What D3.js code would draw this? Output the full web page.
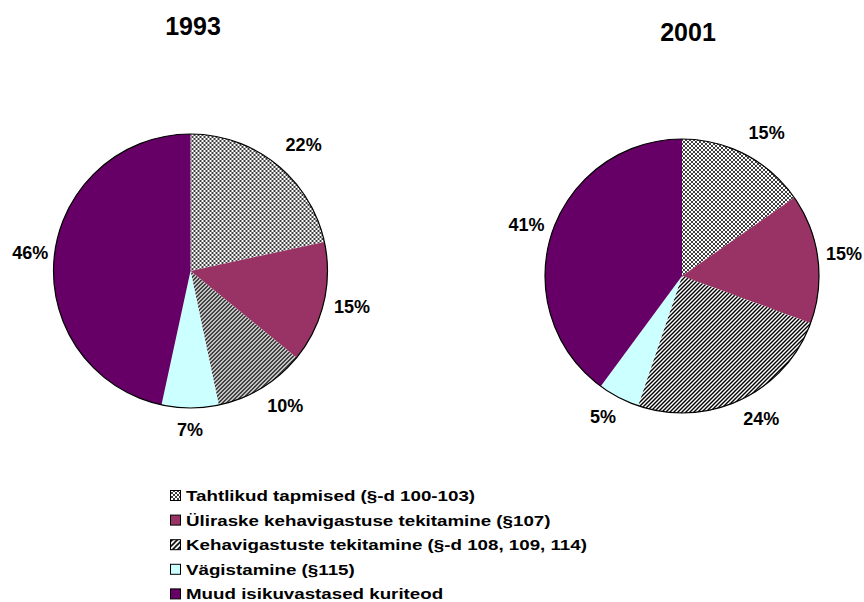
<!DOCTYPE html>
<html>
<head>
<meta charset="utf-8">
<script src="https://cdn.jsdelivr.net/npm/d3@7"></script>
<style>
  body { margin: 0; background: #fff; }
  text { font-family: "Liberation Sans", Arial, sans-serif; font-weight: bold; fill: #000; }
</style>
</head>
<body>
<div id="chart"></div>
<script>
// data
let categories = [
    "Tahtlikud tapmised (§-d 100-103)",
    "Üliraske kehavigastuse tekitamine (§107)",
    "Kehavigastuste tekitamine (§-d 108, 109, 114)",
    "Vägistamine (§115)",
    "Muud isikuvastased kuriteod"
];
let years = ["1993", "2001"];
let values1993 = [21.6, 14.3, 10.8, 6.7, 46.6];
let values2001 = [15.3, 15.3, 24.6, 4.9, 39.9];
let labels1993 = ["22%", "15%", "10%", "7%", "46%"];
let labels2001 = ["15%", "15%", "24%", "5%", "41%"];

function makeChart() {
    let svgWidth = 864;
    let svgHeight = 602;
    let radius = 137;
    let labelRadius = 160;

    let svg = d3.select("#chart")
        .append("svg")
        .attr("width", svgWidth)
        .attr("height", svgHeight);

    //patterns
    let defs = svg.append("defs");

    let trellis = defs.append("pattern")
        .attr("id", "trellis")
        .attr("patternUnits", "userSpaceOnUse")
        .attr("width", 4)
        .attr("height", 4);
    trellis.append("rect").attr("width", 4).attr("height", 4).attr("fill", "#fff");
    trellis.append("path")
        .attr("d", "M0,0 L4,4 M4,0 L0,4")
        .attr("stroke", "#000")
        .attr("stroke-width", 0.75);

    let diag = defs.append("pattern")
        .attr("id", "diag")
        .attr("patternUnits", "userSpaceOnUse")
        .attr("width", 4)
        .attr("height", 4);
    diag.append("rect").attr("width", 4).attr("height", 4).attr("fill", "#fff");
    diag.append("path")
        .attr("d", "M-1,1 L1,-1 M0,4 L4,0 M3,5 L5,3")
        .attr("stroke", "#000")
        .attr("stroke-width", 1.4);

    let diagBig = defs.append("pattern")
        .attr("id", "diagBig")
        .attr("patternUnits", "userSpaceOnUse")
        .attr("width", 5)
        .attr("height", 5);
    diagBig.append("rect").attr("width", 5).attr("height", 5).attr("fill", "#fff");
    diagBig.append("path")
        .attr("d", "M-1,1 L1,-1 M0,5 L5,0 M4,6 L6,4")
        .attr("stroke", "#000")
        .attr("stroke-width", 1.6);

    let fills = ["url(#trellis)", "#993366", "url(#diag)", "#ccffff", "#660066"];
    let legendFills = ["url(#trellis)", "#993366", "url(#diagBig)", "#ccffff", "#660066"];

    let pie = d3.pie().sort(null).value(d => d);
    let arc = d3.arc().innerRadius(0).outerRadius(radius);
    let labelArc = d3.arc().innerRadius(labelRadius).outerRadius(labelRadius);

    // excel nudges labels sideways on the diagonals
    function push(d) {
        let a = (d.startAngle + d.endAngle) / 2;
        let s = Math.abs(Math.sin(2 * a));
        return Math.sin(a) > 0 ? 13 * s : -6 * s;
    }

    let pies = [
        {year: years[0], values: values1993, labels: labels1993, cx: 190.5, cy: 271, tx: 193, ty: 35},
        {year: years[1], values: values2001, labels: labels2001, cx: 682, cy: 276, tx: 688, ty: 41}
    ];

    pies.forEach(function(p) {
        let g = svg.append("g")
            .attr("transform", `translate(${p.cx}, ${p.cy})`);

        let slices = pie(p.values);

        g.selectAll("path.slice")
            .data(slices)
            .enter()
            .append("path")
            .attr("class", "slice")
            .attr("d", arc)
            .attr("fill", (d, i) => fills[i]);

        //outline
        g.append("circle")
            .attr("r", radius)
            .attr("fill", "none")
            .attr("stroke", "#000")
            .attr("stroke-width", 1.2);

        g.selectAll("text.lbl")
            .data(slices)
            .enter()
            .append("text")
            .attr("class", "lbl")
            .attr("x", d => labelArc.centroid(d)[0] + push(d))
            .attr("y", d => labelArc.centroid(d)[1] - 1.5)
            .attr("dy", "0.35em")
            .attr("text-anchor", "middle")
            .attr("font-size", "18px")
            .text((d, i) => p.labels[i]);

        //title
        svg.append("text")
            .attr("x", p.tx)
            .attr("y", p.ty)
            .attr("text-anchor", "middle")
            .attr("font-size", "25px")
            .text(p.year);
    });

    //legend
    let legendY = d3.scaleBand()
        .domain(categories)
        .range([483, 606]);

    let legend = svg.append("g")
        .selectAll("g")
        .data(categories)
        .enter()
        .append("g")
        .attr("transform", d => `translate(170, ${legendY(d)})`);

    legend.append("rect")
        .attr("x", 0.5)
        .attr("y", 7.5)
        .attr("width", 10)
        .attr("height", 10)
        .attr("fill", (d, i) => legendFills[i])
        .attr("stroke", "#000")
        .attr("stroke-width", 1);

    legend.append("text")
        .attr("transform", "translate(16, 18) scale(1.21, 1)")
        .attr("font-size", "15.5px")
        .text(d => d);
}

makeChart();
</script>
</body>
</html>
